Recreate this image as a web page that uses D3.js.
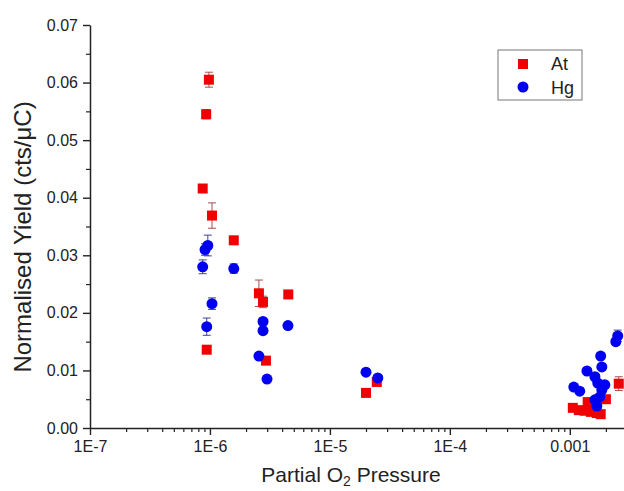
<!DOCTYPE html>
<html>
<head>
<meta charset="utf-8">
<script src="https://cdn.jsdelivr.net/npm/d3@7"></script>
<style>
  body { margin: 0; background: #fff; }
  svg text { font-family: "Liberation Sans", Arial, sans-serif; fill: #222; }
</style>
</head>
<body>
<div id="chart"></div>
<script>
// At (red squares): partial O2 pressure, normalised yield, error
const atPressure = [9.8e-7, 9.3e-7, 8.7e-7, 1.04e-6, 1.58e-6, 9.4e-7, 2.56e-6, 2.77e-6, 4.5e-6, 2.93e-6,
    2.0e-5, 2.46e-5,
    1.06e-3, 1.19e-3, 1.33e-3, 1.50e-3, 1.68e-3, 1.81e-3, 1.41e-3, 1.68e-3, 2.0e-3, 2.56e-3];
const atYield = [0.0605, 0.0545, 0.0416, 0.0369, 0.0326, 0.0136, 0.0234, 0.0219, 0.0232, 0.0117,
    0.0061, 0.0080,
    0.0035, 0.0031, 0.0030, 0.0028, 0.0026, 0.0024, 0.0045, 0.0047, 0.0050, 0.0077];
const atError = [0.0013, 0.0008, 0.0006, 0.0022, 0.0006, 0.0005, 0.0023, 0.0010, 0.0006, 0.0004,
    0.0004, 0.0006,
    0.0003, 0.0003, 0.0003, 0.0003, 0.0003, 0.0003, 0.0004, 0.0004, 0.0004, 0.0012];

// Hg (blue circles)
const hgPressure = [9.6e-7, 9.1e-7, 8.7e-7, 1.58e-6, 1.04e-6, 9.4e-7, 2.77e-6, 2.77e-6, 2.56e-6, 2.99e-6, 4.47e-6,
    2.0e-5, 2.51e-5,
    1.08e-3, 1.21e-3, 1.39e-3, 1.81e-3, 1.85e-3, 1.62e-3, 1.71e-3, 1.85e-3, 1.96e-3, 1.62e-3, 1.68e-3, 1.78e-3,
    2.42e-3, 2.51e-3];
const hgYield = [0.0317, 0.0310, 0.0280, 0.0277, 0.0216, 0.0176, 0.0185, 0.0169, 0.0125, 0.0085, 0.0178,
    0.0097, 0.0087,
    0.0071, 0.0064, 0.0099, 0.0125, 0.0106, 0.0089, 0.0078, 0.0066, 0.0075, 0.0049, 0.0038, 0.0054,
    0.0150, 0.0160];
const hgError = [0.0018, 0.0010, 0.0012, 0.0008, 0.0010, 0.0015, 0.0005, 0.0004, 0.0004, 0.0003, 0.0004,
    0.0004, 0.0006,
    0.0003, 0.0003, 0.0004, 0.0004, 0.0004, 0.0003, 0.0003, 0.0003, 0.0003, 0.0003, 0.0003, 0.0003,
    0.0006, 0.0010];

const xMajor = [1e-7, 1e-6, 1e-5, 1e-4, 1e-3];
const xLabels = ["1E-7", "1E-6", "1E-5", "1E-4", "0.001"];
const yMajor = [0, 0.01, 0.02, 0.03, 0.04, 0.05, 0.06, 0.07];

const W = 624, H = 491;
const svg = d3.select("#chart").append("svg")
    .attr("width", W).attr("height", H);

const x = d3.scaleLog().domain([1e-7, 4e-3]).range([90, 642]);
const y = d3.scaleLinear().domain([0, 0.07]).range([428, 25]);

// minor ticks
const xMinor = [];
xMajor.forEach(d => { for (let k = 2; k <= 9; k++) if (d * k <= 4e-3) xMinor.push(d * k); });
const yMinor = yMajor.slice(0, -1).map(d => d + 0.005);

const axisColor = "#222";

svg.append("g")
    .attr("transform", "translate(0,428)")
    .call(d3.axisBottom(x).tickValues(xMinor).tickSize(4).tickFormat(""))
    .call(g => g.select(".domain").remove())
    .call(g => g.selectAll("line").attr("stroke", axisColor).attr("stroke-width", 1.2));

svg.append("g")
    .attr("transform", "translate(0,428)")
    .call(d3.axisBottom(x).tickValues(xMajor).tickSize(7).tickSizeOuter(0).tickPadding(6)
        .tickFormat((d, i) => xLabels[i]))
    .call(g => g.select(".domain").attr("stroke", axisColor).attr("stroke-width", 1.5))
    .call(g => g.selectAll("line").attr("stroke", axisColor).attr("stroke-width", 1.4))
    .call(g => g.selectAll("text").attr("font-size", 16).attr("fill", "#222"));

svg.append("g")
    .attr("transform", "translate(90,0)")
    .call(d3.axisLeft(y).tickValues(yMinor).tickSize(4).tickFormat(""))
    .call(g => g.select(".domain").remove())
    .call(g => g.selectAll("line").attr("stroke", axisColor).attr("stroke-width", 1.2));

svg.append("g")
    .attr("transform", "translate(90,0)")
    .call(d3.axisLeft(y).tickValues(yMajor).tickSize(7).tickSizeOuter(0).tickPadding(5)
        .tickFormat(d3.format(".2f")))
    .call(g => g.select(".domain").attr("stroke", axisColor).attr("stroke-width", 1.5))
    .call(g => g.selectAll("line").attr("stroke", axisColor).attr("stroke-width", 1.4))
    .call(g => g.selectAll("text").attr("font-size", 16).attr("fill", "#222"));

// axis titles
svg.append("text")
    .attr("x", 351).attr("y", 482)
    .attr("text-anchor", "middle")
    .attr("font-size", 21)
    .html('Partial O<tspan font-size="14" dy="4">2</tspan><tspan dy="-4"> Pressure</tspan>');

svg.append("text")
    .attr("transform", "translate(31,237) rotate(-90)")
    .attr("text-anchor", "middle")
    .attr("font-size", 24)
    .text("Normalised Yield (cts/\u03bcC)");

// series
function drawSeries(px, py, pe, color, barColor, shape) {
    const pts = px.map((p, i) => ({ p: p, v: py[i], e: pe[i] }));
    const g = svg.append("g");
    const eb = g.selectAll("g.eb").data(pts).join("g").attr("class", "eb")
        .attr("stroke", barColor).attr("stroke-width", 1);
    eb.append("line")
        .attr("x1", d => x(d.p)).attr("x2", d => x(d.p))
        .attr("y1", d => y(d.v - d.e)).attr("y2", d => y(d.v + d.e));
    eb.append("line")
        .attr("x1", d => x(d.p) - 4).attr("x2", d => x(d.p) + 4)
        .attr("y1", d => y(d.v + d.e)).attr("y2", d => y(d.v + d.e));
    eb.append("line")
        .attr("x1", d => x(d.p) - 4).attr("x2", d => x(d.p) + 4)
        .attr("y1", d => y(d.v - d.e)).attr("y2", d => y(d.v - d.e));
    if (shape === "square") {
        g.selectAll("rect").data(pts).join("rect")
            .attr("x", d => x(d.p) - 5).attr("y", d => y(d.v) - 5)
            .attr("width", 10).attr("height", 10)
            .attr("fill", color);
    } else {
        g.selectAll("circle").data(pts).join("circle")
            .attr("cx", d => x(d.p)).attr("cy", d => y(d.v))
            .attr("r", 5.5)
            .attr("fill", color);
    }
}

drawSeries(atPressure, atYield, atError, "#f00000", "#a05050", "square");
drawSeries(hgPressure, hgYield, hgError, "#0000f0", "#4040a0", "circle");

// legend
const lg = svg.append("g");
lg.append("rect").attr("x", 498).attr("y", 50).attr("width", 84).attr("height", 50)
    .attr("fill", "#fff").attr("stroke", "#777").attr("stroke-width", 1);
lg.append("rect").attr("x", 518).attr("y", 59).attr("width", 10).attr("height", 10).attr("fill", "#f00000");
lg.append("circle").attr("cx", 523).attr("cy", 87).attr("r", 5.5).attr("fill", "#0000f0");
lg.append("text").attr("x", 551).attr("y", 70).attr("font-size", 18).text("At");
lg.append("text").attr("x", 551).attr("y", 94).attr("font-size", 18).text("Hg");
</script>
</body>
</html>
